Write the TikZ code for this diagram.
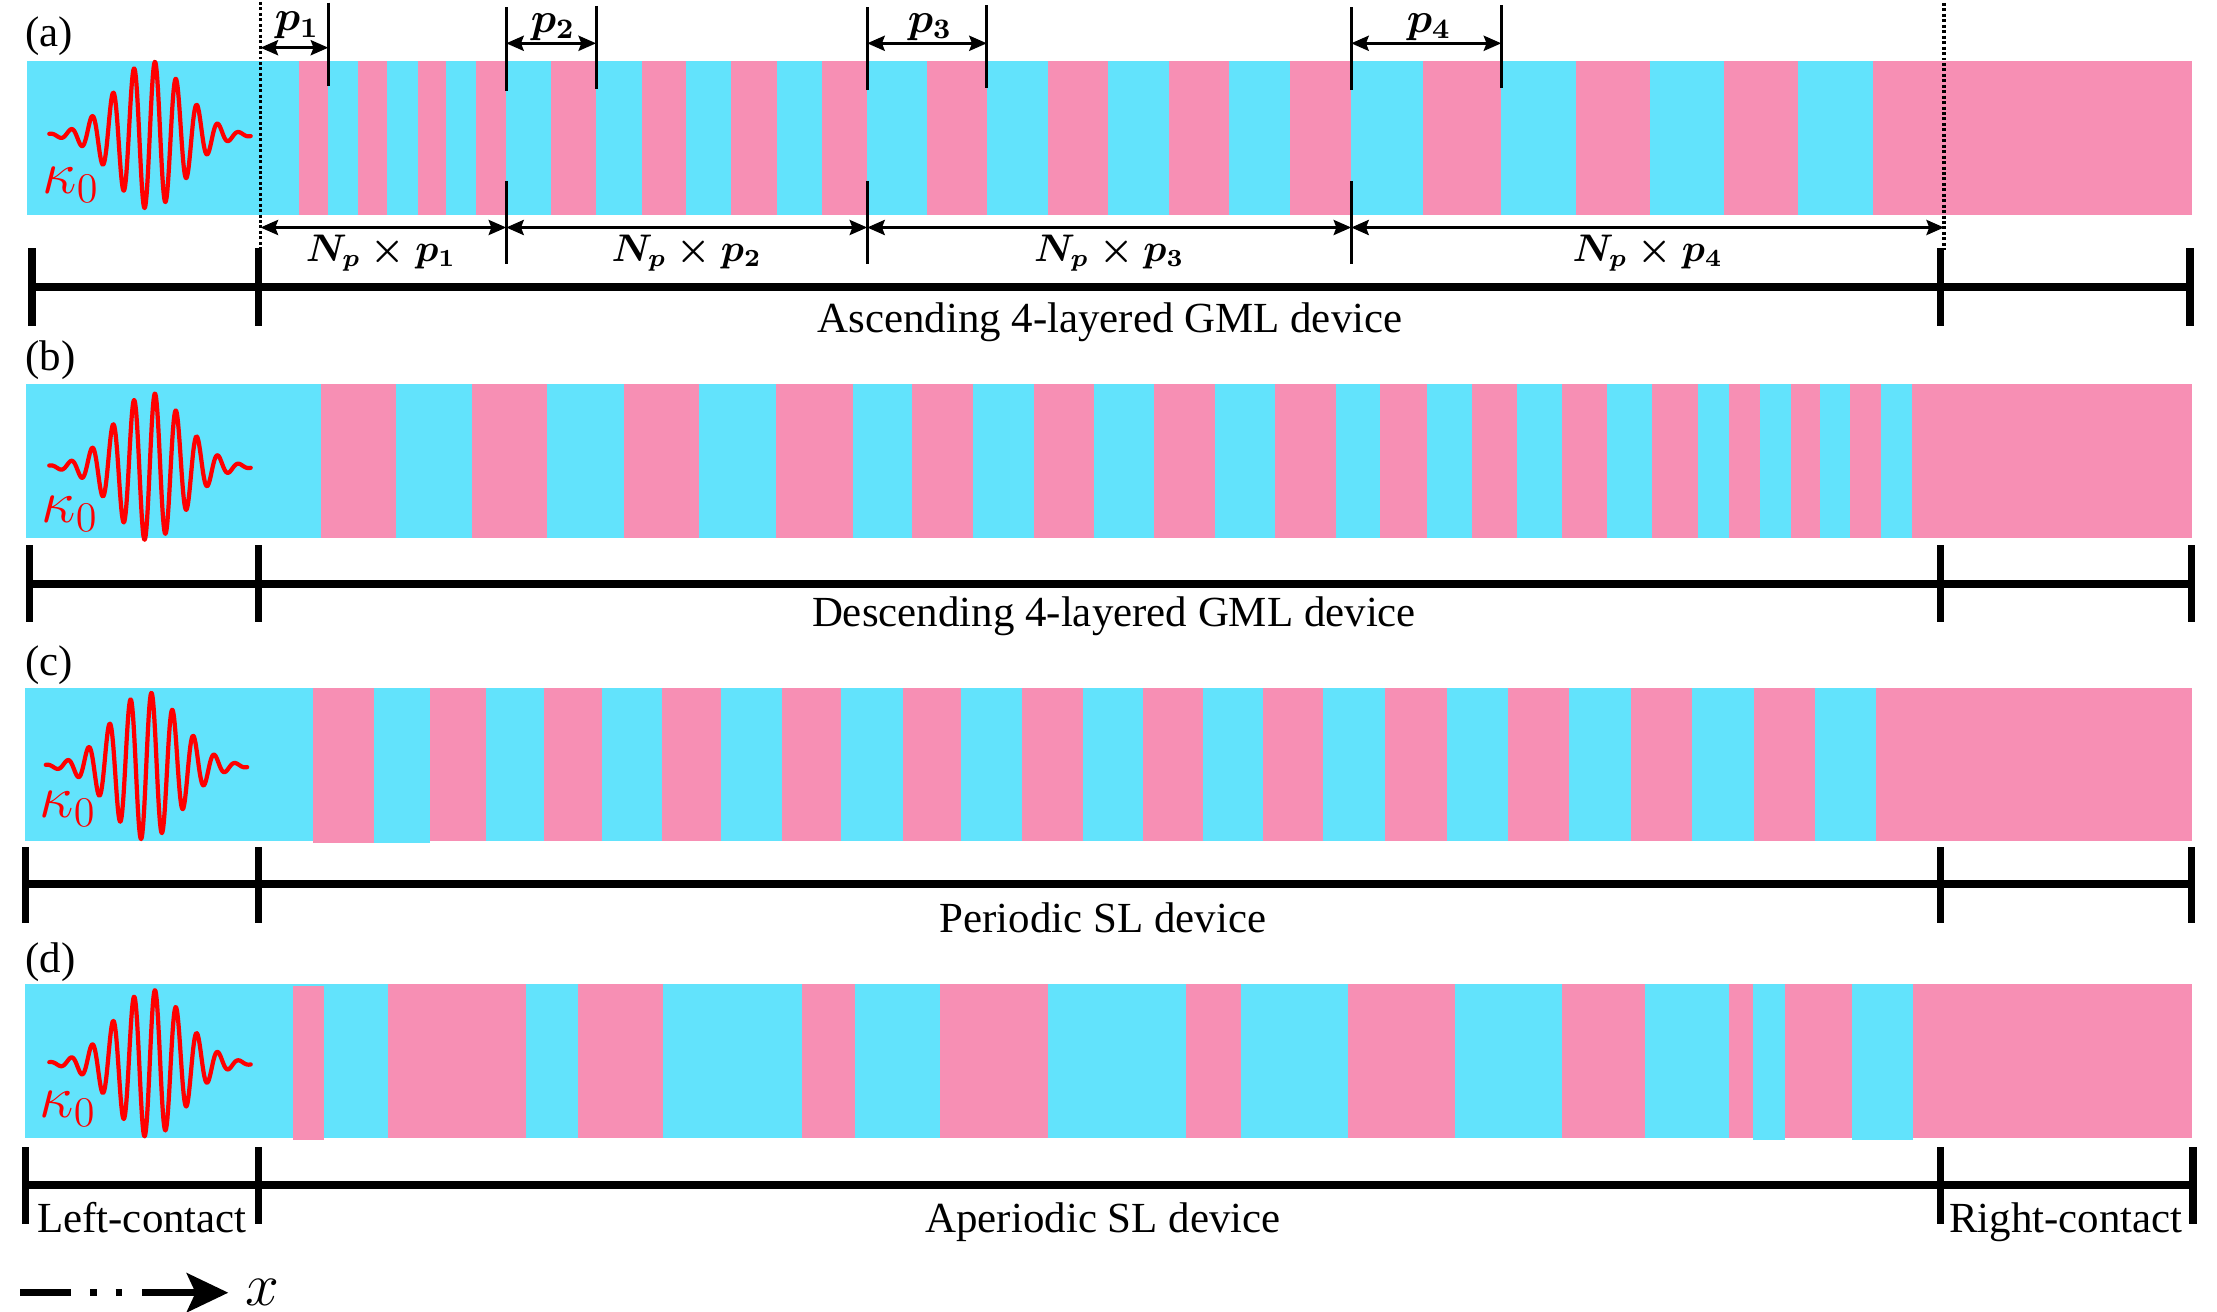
\documentclass[tikz,border=0pt]{standalone}
\usepackage{fontspec}
\setmainfont{Liberation Serif}
\usetikzlibrary{arrows.meta}
\definecolor{layerA}{RGB}{98,227,252}
\definecolor{layerB}{RGB}{247,143,180}
\begin{document}
\begin{tikzpicture}[x=0.01cm,y=-0.01cm,
  thinline/.style={line width=0.8pt},
  dimarrow/.style={line width=0.8pt,{Stealth[length=5pt,width=4.3pt,inset=0.8pt]}-{Stealth[length=5pt,width=4.3pt,inset=0.8pt]}},
  scalebar/.style={line width=2.2pt,line cap=butt},
  dotline/.style={line width=1.1pt,dash pattern=on 0.85pt off 0.7pt},
  wave/.style={red,line width=1.2pt,line join=round,line cap=round},
  lbl/.style={font=\fontsize{12.2}{14}\selectfont,inner sep=0pt},
  mlbl/.style={font=\fontsize{10.5}{12}\selectfont\boldmath,inner sep=0pt},
  plbl/.style={font=\fontsize{12}{14}\selectfont\boldmath,inner sep=0pt},
  klbl/.style={font=\fontsize{18}{20}\selectfont,text=red,inner sep=0pt}]

\useasboundingbox (0,0) rectangle (2217,1312);

% ---------------- row (a) ----------------
\fill[layerA] (27,61) rectangle (2191.5,215);
\foreach \a/\b in {298.7/327.8,357.5/387.2,417.7/446,475.7/506.2,550.8/596.1,642.1/686,731.3/776.6,821.9/867.2,927.4/986.8,1047.7/1108,1169.3/1228.8,1290.4/1351.2,1423.4/1501.3,1575.6/1650,1724.3/1797.9,1873/2191.5}
  \fill[layerB] (\a,61) rectangle (\b,215);

% ---------------- row (b) ----------------
\fill[layerA] (26,384) rectangle (2191.5,538);
\foreach \a/\b in {320.7/395.7,472.2/547.2,623.7/699.4,775.9/853.0,911.8/972.7,1033.6/1093.7,1153.7/1215.3,1274.8/1336.4,1380.3/1427.0,1471.6/1516.9,1561.5/1606.8,1652.1/1698.1,1728.6/1759.7,1790.9/1819.9,1849.6/1880.8,1911.9/2191.5}
  \fill[layerB] (\a,384) rectangle (\b,538);

% ---------------- row (c) ----------------
\fill[layerA] (25,688) rectangle (2191.5,841);
\foreach \a/\b in {430.4/486.3,543.7/601.7,661.9/721.4,782.3/841.0,903.3/960.6,1021.5/1083.1,1143.1/1202.6,1262.7/1322.9,1385.2/1446.8,1507.7/1569.3,1630.9/1691.7,1754.0/1814.9,1875.8/2191.5}
  \fill[layerB] (\a,688) rectangle (\b,841);
\fill[layerB] (312.9,688) rectangle (373.8,842.5);
\fill[layerA] (373.8,688.7) rectangle (430.4,842.5);

% ---------------- row (d) ----------------
\fill[layerA] (25,984) rectangle (2192,1138);
\foreach \a/\b in {387.9/526.0,577.7/663.3,802.1/854.5,940.1/1047.7,1185.6/1240.8,1348.4/1454.6,1562.2/1645.0,1728.6/1753.3,1784.5/1851.7,1913.3/2192}
  \fill[layerB] (\a,984) rectangle (\b,1138);
\fill[layerB] (293.1,985.7) rectangle (324.2,1139.5);
\fill[layerA] (1753.3,985.7) rectangle (1784.5,1139.5);
\fill[layerA] (1851.7,985.7) rectangle (1913.3,1139.5);

% ---------------- wave packets ----------------
\foreach \cx/\cy in {150/135,150/466.7,146.5/766,150/1063.3}
  \draw[wave] plot[domain=-100.7:100.7,samples=320] ({\cx+\x},{\cy-74*exp(-((\x)/49.5)^2)*cos(17.142857*(\x-5))});

\node[klbl,anchor=base west] (ka) at (42,193) {$\kappa_0$};
\node[klbl,anchor=base west] (kb) at (41,522.7) {$\kappa_0$};
\node[klbl,anchor=base west] (kc) at (39,817.7) {$\kappa_0$};
\node[klbl,anchor=base west] (kd) at (39,1117.7) {$\kappa_0$};

% ---------------- panel letters ----------------
\node[lbl,anchor=base west] (la) at (24.8,47) {(a)};
\node[lbl,anchor=base west] (lb) at (24.8,370.5) {(b)};
\node[lbl,anchor=base west] (lc) at (24.8,675.5) {(c)};
\node[lbl,anchor=base west] (ld) at (24.8,972) {(d)};

% ---------------- dimension lines of row (a) ----------------
\coordinate (dLt) at (260.5,2);   \coordinate (dLb) at (260.5,250);
\coordinate (dRt) at (1944,3);    \coordinate (dRb) at (1944,250);
\draw[dotline] (dLt) -- (dLb);
\draw[dotline] (dRt) -- (dRb);

\foreach \n/\xx/\t/\b in {v1/328.3/2.7/86,v2/506.2/7/91,v3/596.1/6/89,v4/867.2/7/90,v5/986.8/5/88,v6/1351.2/7/90,v7/1501.3/5/88}{
  \coordinate (\n t) at (\xx,\t);
  \coordinate (\n b) at (\xx,\b);
  \draw[thinline] (\n t) -- (\n b);
}
\foreach \n/\xx in {w2/506.2,w4/867.2,w6/1351.2}{
  \coordinate (\n t) at (\xx,181);
  \coordinate (\n b) at (\xx,264);
  \draw[thinline] (\n t) -- (\n b);
}

% top period arrows
\coordinate (p1a) at (260.5,47.7);  \coordinate (p1b) at (328.3,47.7);
\coordinate (p2a) at (506.2,43.3);  \coordinate (p2b) at (596.1,43.3);
\coordinate (p3a) at (867.2,43.3);  \coordinate (p3b) at (986.8,43.3);
\coordinate (p4a) at (1351.2,43.3); \coordinate (p4b) at (1501.3,43.3);
\draw[dimarrow] (p1a) -- (p1b);
\draw[dimarrow] (p2a) -- (p2b);
\draw[dimarrow] (p3a) -- (p3b);
\draw[dimarrow] (p4a) -- (p4b);
\node[plbl,anchor=base] (t1) at (297,31) {$p_1$};
\node[plbl,anchor=base] (t2) at (553,32) {$p_2$};
\node[plbl,anchor=base] (t3) at (930,32) {$p_3$};
\node[plbl,anchor=base] (t4) at (1429,32) {$p_4$};

% bottom section arrows
\coordinate (s0) at (260.5,227.5);
\coordinate (s1) at (506.2,227.5);
\coordinate (s2) at (867.2,227.5);
\coordinate (s3) at (1351.2,227.5);
\coordinate (s4) at (1944,227.5);
\draw[dimarrow] (s0) -- (s1);
\draw[dimarrow] (s1) -- (s2);
\draw[dimarrow] (s2) -- (s3);
\draw[dimarrow] (s3) -- (s4);
\node[mlbl,anchor=base] (n1) at (381,261) {$N_p\times p_1$};
\node[mlbl,anchor=base] (n2) at (686.7,261) {$N_p\times p_2$};
\node[mlbl,anchor=base] (n3) at (1109.2,261) {$N_p\times p_3$};
\node[mlbl,anchor=base] (n4) at (1647.6,261) {$N_p\times p_4$};

% ---------------- scale bars ----------------
\foreach \r/\xl/\xr/\yb/\ta/\tb in {A/32/2190/287/248/326,B/29.5/2191.5/584.3/545/622,C/25.5/2191.5/884.3/847/923,D/25.5/2193/1185/1147/1224}{
  \coordinate (\r l) at (\xl,\yb);
  \coordinate (\r r) at (\xr,\yb);
  \draw[scalebar] (\r l) -- (\r r);
  \draw[scalebar] (\xl,\ta) -- (\xl,\tb);
  \draw[scalebar] (258.5,\ta) -- (258.5,\tb);
  \draw[scalebar] (1940.5,\ta) -- (1940.5,\tb);
  \draw[scalebar] (\xr,\ta) -- (\xr,\tb);
}

\node[lbl,anchor=base] (da) at (1110,332.5) {Ascending 4-layered GML device};
\node[lbl,anchor=base] (db) at (1114,626) {Descending 4-layered GML device};
\node[lbl,anchor=base] (dc) at (1103,932) {Periodic SL device};
\node[lbl,anchor=base] (dd) at (1103,1232) {Aperiodic SL device};
\node[lbl,anchor=base] (lcnt) at (142,1232) {Left-contact};
\node[lbl,anchor=base] (rcnt) at (2066,1232) {Right-contact};

% ---------------- x axis arrow ----------------
\coordinate (xa0) at (20,1292.7);  \coordinate (xa1) at (70.7,1292.7);
\coordinate (xd0) at (90,1292.7);  \coordinate (xd1) at (96.7,1292.7);
\coordinate (xe0) at (115.7,1292.7); \coordinate (xe1) at (122.3,1292.7);
\coordinate (xb0) at (142.3,1292.7); \coordinate (xb1) at (228.3,1292.7);
\draw[line width=1.9pt] (xa0) -- (xa1);
\draw[line width=1.9pt] (xd0) -- (xd1);
\draw[line width=1.9pt] (xe0) -- (xe1);
\draw[line width=1.9pt,-{Stealth[length=11.8pt,width=11.1pt,inset=2.5pt]}] (xb0) -- (xb1);
\node[font=\fontsize{18}{20}\selectfont,anchor=base west,inner sep=0pt] (xl) at (245,1305) {$x$};

\end{tikzpicture}
\end{document}
